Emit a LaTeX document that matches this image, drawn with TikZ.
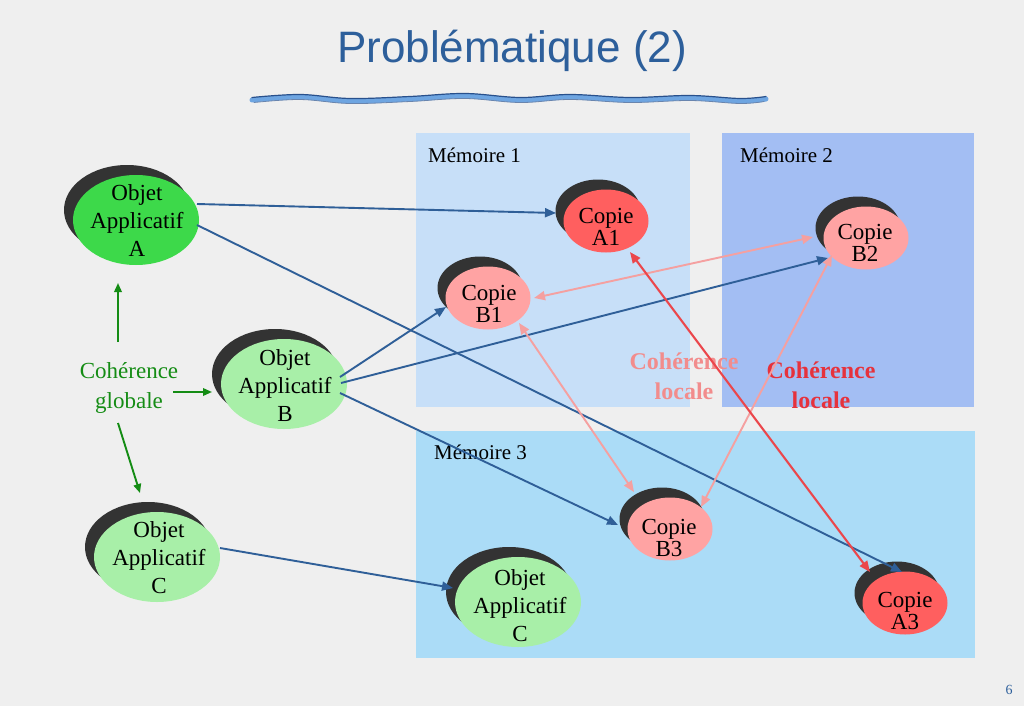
\documentclass[tikz,border=0pt]{standalone}
\usepackage{fontspec}
\setmainfont{Liberation Serif}
\newfontfamily\titlefont{Liberation Sans}
\usetikzlibrary{shapes.geometric,arrows.meta,calc}

\definecolor{bgc}{RGB}{239,239,239}
\definecolor{titleblue}{RGB}{45,95,155}
\definecolor{lineblue}{RGB}{47,95,152}
\definecolor{wavelight}{RGB}{110,165,225}
\definecolor{wavedark}{RGB}{40,80,140}
\definecolor{memA}{RGB}{199,223,248}
\definecolor{memB}{RGB}{163,190,243}
\definecolor{memC}{RGB}{171,220,247}
\definecolor{greenA}{RGB}{61,217,74}
\definecolor{greenB}{RGB}{168,239,168}
\definecolor{redA}{RGB}{255,95,95}
\definecolor{pinkB}{RGB}{255,163,163}
\definecolor{shadowc}{RGB}{51,51,51}
\definecolor{pinkline}{RGB}{245,160,160}
\definecolor{redline}{RGB}{235,70,75}
\definecolor{greenline}{RGB}{20,140,20}
\definecolor{pinktext}{RGB}{242,140,140}
\definecolor{redtext}{RGB}{230,50,60}

\begin{document}
\begin{tikzpicture}[x=1pt,y=-1pt,
  objbase/.style={ellipse,inner sep=0pt,draw=none,minimum width=126pt,minimum height=90pt},
  copbase/.style={ellipse,inner sep=0pt,draw=none,minimum width=85pt,minimum height=63pt},
  shd/.style={fill=shadowc},
  objtxt/.style={align=center,inner sep=0pt,font=\fontsize{23}{28}\selectfont},
  coptxt/.style={align=center,inner sep=0pt,font=\fontsize{23}{22}\selectfont},
  memlbl/.style={anchor=base west,inner sep=0pt,font=\fontsize{21}{24}\selectfont},
  loctxt/.style={align=center,inner sep=0pt,font=\bfseries\fontsize{24}{30}\selectfont},
  bluearr/.style={draw=lineblue,line width=1.9pt,-{Triangle[length=11pt,width=9pt]}},
  pinkarr/.style={draw=pinkline,line width=1.9pt,{Triangle[length=11pt,width=9pt]}-{Triangle[length=11pt,width=9pt]}},
  redarr/.style={draw=redline,line width=2.1pt,{Triangle[length=11pt,width=9pt]}-{Triangle[length=11pt,width=9pt]}},
  greenarr/.style={draw=greenline,line width=1.9pt,-{Triangle[length=9pt,width=7.5pt]}}
]
\useasboundingbox (0,0) rectangle (1024,706);
\fill[bgc] (0,0) rectangle (1024,706);

% title
\node[anchor=base,inner sep=0pt,text=titleblue,font=\titlefont\fontsize{44}{50}\selectfont] (title) at (512,63) {Problématique (2)};
\draw[wavelight,line width=5pt,line cap=round] plot[smooth,tension=0.6] coordinates {(252,100) (300,97) (350,101) (410,99) (465,96) (520,100) (570,97) (630,100) (690,98) (740,101) (766,99)};
\draw[wavedark,line width=1.2pt,line cap=round] plot[smooth,tension=0.6] coordinates {(252,97.5) (300,94.5) (350,98.5) (410,96.5) (465,93.5) (520,97.5) (570,94.5) (630,97.5) (690,95.5) (740,98.5) (766,96.5)};
\draw[wavedark!70,line width=0.8pt,line cap=round] plot[smooth,tension=0.6] coordinates {(254,102.5) (300,99.5) (350,103.5) (410,101.5) (465,98.5) (520,102.5) (570,99.5) (630,102.5) (690,100.5) (740,103.5) (764,101.5)};

% memory boxes
\fill[memA] (416,133) rectangle (690,407);
\fill[memB] (722,133) rectangle (974,407);
\fill[memC] (416,431) rectangle (975,658);
\node[memlbl] (m1) at (428,162) {Mémoire 1};
\node[memlbl] (m2) at (740,162) {Mémoire 2};
\node[memlbl] (m3) at (434,459) {Mémoire 3};

% coherence labels
\node[loctxt,text=pinktext] (cl1) at (684,376) {Cohérence\\locale};
\node[loctxt,text=redtext] (cl2) at (821,385) {Cohérence\\locale};
\node[align=center,inner sep=0pt,text=greenline,font=\fontsize{23}{30}\selectfont] (cg) at (129,388) {Cohérence\\globale};

% Objet nodes
\node[objbase,shd] (Ash) at (127,210) {};
\node[objbase,fill=greenA] (A) at (136,220) {};
\node[objtxt] (At) at (137,221) {Objet\\Applicatif\\A};

\node[objbase,shd] (Bsh) at (275,374) {};
\node[objbase,fill=greenB] (B) at (284,384) {};
\node[objtxt] (Bt) at (285,386) {Objet\\Applicatif\\B};

\node[objbase,shd] (Csh) at (148,547) {};
\node[objbase,fill=greenB] (C) at (157,557) {};
\node[objtxt] (Ct) at (159,558) {Objet\\Applicatif\\C};

\node[objbase,shd] (C2sh) at (509,592) {};
\node[objbase,fill=greenB] (C2) at (518,602) {};
\node[objtxt] (C2t) at (520,606) {Objet\\Applicatif\\C};

% Copie nodes
\node[copbase,shd] (A1sh) at (598,211) {};
\node[copbase,fill=redA] (A1) at (606,221) {};
\node[coptxt] (A1t) at (606,227) {Copie\\A1};

\node[copbase,shd] (B1sh) at (480,288) {};
\node[copbase,fill=pinkB] (B1) at (488,298) {};
\node[coptxt] (B1t) at (489,304) {Copie\\B1};

\node[copbase,shd] (B2sh) at (858,228) {};
\node[copbase,fill=pinkB] (B2) at (866,238) {};
\node[coptxt] (B2t) at (865,243) {Copie\\B2};

\node[copbase,shd] (B3sh) at (662,519) {};
\node[copbase,fill=pinkB] (B3) at (670,529) {};
\node[coptxt] (B3t) at (669,538) {Copie\\B3};

\node[copbase,shd] (A3sh) at (897,593) {};
\node[copbase,fill=redA] (A3) at (905,603) {};
\node[coptxt] (A3t) at (905,611) {Copie\\A3};

% blue connectors
\draw[bluearr] ($(A)+(61,-16)$) -- ($(A1)+(-50,-8)$);
\draw[bluearr] ($(A)+(61,5)$) -- ($(A3)+(-3,-31)$);
\draw[bluearr] ($(B)+(56,-7)$) -- ($(B1)+(-42,9)$);
\draw[bluearr] ($(B)+(57,-1)$) -- ($(B2)+(-38,20)$);
\draw[bluearr] ($(B)+(56,9)$) -- ($(B3)+(-52,-4)$);
\draw[bluearr] ($(C)+(63,-9)$) -- ($(C2)+(-65,-14)$);

% pink connectors
\draw[pinkarr] ($(B1)+(46,0)$) -- ($(B2)+(-53,-1)$);
\draw[pinkarr] ($(B1)+(31,25)$) -- ($(B3)+(-36,-37)$);
\draw[pinkarr] ($(B2)+(-34,17)$) -- ($(B3)+(31,-22)$);

% red connector
\draw[redarr] ($(A1)+(24,31)$) -- ($(A3)+(-35,-31)$);

% green connectors
\draw[greenarr] ($(cg)+(-11,-46)$) -- ($(A)+(-18,63)$);
\draw[greenarr] ($(cg)+(44,4)$) -- ($(B)+(-72,8)$);
\draw[greenarr] ($(cg)+(-11,35)$) -- ($(C)+(-17,-64)$);

% page number
\node[inner sep=0pt,text=titleblue,font=\fontsize{14}{16}\selectfont] (pg) at (1009,690) {6};
\end{tikzpicture}
\end{document}
